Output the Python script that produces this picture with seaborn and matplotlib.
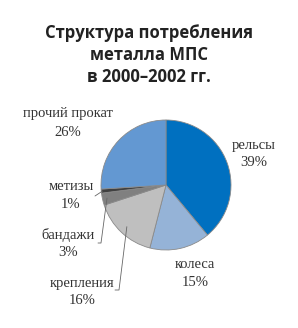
import numpy as np
import matplotlib
matplotlib.use("Agg")
import matplotlib.pyplot as plt
import seaborn as sns

# ---- data ----
categories = ["рельсы", "колеса", "крепления", "бандажи", "метизы", "прочий прокат"]
shares = [39, 15, 16, 3, 1, 26]
pct_labels = ["39%", "15%", "16%", "3%", "1%", "26%"]
title_text = "Структура потребления\nметалла МПС\nв 2000–2002 гг."

sns.set_theme(style="white")
palette = sns.color_palette(["#0070C0", "#95B3D7", "#BFBFBF", "#808080", "#404040", "#6398D2"])

W, H = 298, 328
fig = plt.figure(figsize=(W / 100, H / 100), dpi=100)
ax = fig.add_axes([0, 0, 1, 1])

cx, cy, R = 166, H - 185, 65
wedges, _ = ax.pie(shares, colors=palette, startangle=90, counterclock=False,
                   center=(cx, cy), radius=R, frame=True,
                   wedgeprops=dict(edgecolor="#8a8a8a", linewidth=0.6))
ax.set_xlim(0, W)
ax.set_ylim(0, H)
ax.set_aspect("equal")
ax.axis("off")

ax.text(W / 2, H - 55, title_text, ha="center", va="center",
        fontsize=12, fontweight="bold", family="Open Sans", color="#222222",
        linespacing=1.27)

lab_font = dict(family="Liberation Serif", fontsize=10.5, color="#333333",
                ha="center", va="center")
# label centres (image px): name line, percentage line
label_pos = {
    "рельсы": (254, 145, 163),
    "колеса": (195, 265, 283),
    "крепления": (82, 283, 301),
    "бандажи": (68, 235, 253),
    "метизы": (71, 187, 205),
    "прочий прокат": (68, 113, 132),
}
for cat, pl in zip(categories, pct_labels):
    x, y1, y2 = label_pos[cat]
    ax.text(x, H - y1, cat, **lab_font)
    ax.text(x, H - y2, pl, **lab_font)

# leader lines, starting from wedge middles
def wedge_point(w, frac):
    ang = np.deg2rad((w.theta1 + w.theta2) / 2)
    return cx + frac * R * np.cos(ang), cy + frac * R * np.sin(ang)

lc = dict(color="#666666", lw=0.6)
w = wedges[categories.index("метизы")]
px, py = wedge_point(w, 0.98)
ax.plot([px, 95], [py, H - 196], **lc)
w = wedges[categories.index("бандажи")]
px, py = wedge_point(w, 0.93)
ax.plot([px, 101, 98], [py, H - 243, H - 243], **lc)
w = wedges[categories.index("крепления")]
px, py = wedge_point(w, 0.88)
ax.plot([px, 119, 115], [py, H - 290, H - 290], **lc)

fig.savefig("out.png", dpi=100, facecolor="white")
